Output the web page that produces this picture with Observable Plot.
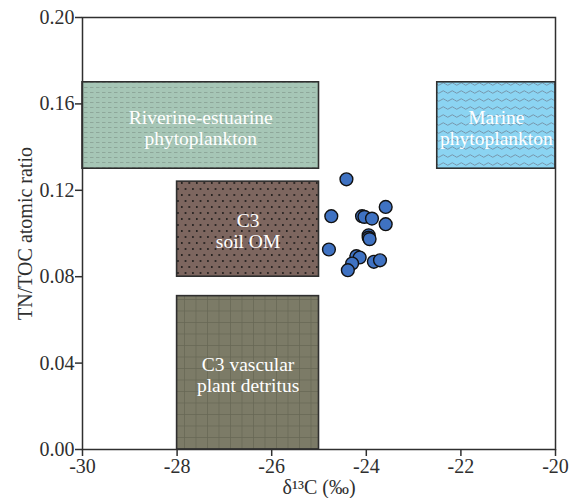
<!DOCTYPE html>
<html>
<head>
<meta charset="utf-8">
<script src="https://cdn.jsdelivr.net/npm/d3@7"></script>
<script src="https://cdn.jsdelivr.net/npm/@observablehq/plot@0.6"></script>
<style>
  body { margin: 0; background: #fff; }
  #chart svg g[aria-label="x-axis tick label"],
  #chart svg g[aria-label="y-axis tick label"],
  #chart svg g[aria-label="x-axis label"],
  #chart svg g[aria-label="y-axis label"] {
    font-size: 20px !important;
    font-family: 'Liberation Serif', 'Times New Roman', serif !important;
  }
</style>
</head>
<body>
<div id="chart"></div>
<script>
// Source end-member boxes
const boxNames = ["Riverine-estuarine\nphytoplankton", "Marine\nphytoplankton", "C3\nsoil OM", "C3 vascular\nplant detritus"];
const boxX1 = [-30, -22.5, -28, -28];
const boxX2 = [-25, -20, -25, -25];
const boxY1 = [0.13, 0.13, 0.08, 0];
const boxY2 = [0.17, 0.17, 0.124, 0.071];
const boxPattern = ["pRiv", "pMar", "pSoil", "pVasc"];

// Sample measurements
const d13C = [-24.42, -24.74, -24.09, -24.04, -23.88, -23.59, -23.59, -23.95, -23.95, -23.93, -24.79, -24.21, -24.14, -24.30, -24.39, -23.84, -23.71];
const tnToc = [0.1251, 0.1080, 0.1080, 0.1077, 0.1069, 0.1123, 0.1043, 0.0992, 0.0981, 0.0974, 0.0926, 0.0895, 0.0889, 0.0861, 0.0830, 0.0869, 0.0876];

const xTicks = [-30, -28, -26, -24, -22, -20];
const yTicks = [0, 0.04, 0.08, 0.12, 0.16, 0.20];

const boxes = boxNames.map((name, i) => ({
  name, x1: boxX1[i], x2: boxX2[i], y1: boxY1[i], y2: boxY2[i], pat: boxPattern[i],
  cx: (boxX1[i] + boxX2[i]) / 2, cy: (boxY1[i] + boxY2[i]) / 2
}));
const samples = d13C.map((x, i) => ({x, y: tnToc[i]}));

const ink = "#2f2f2f";
const serif = "'Liberation Serif', 'Times New Roman', serif";

const chart = Plot.plot({
  width: 573,
  height: 498,
  marginLeft: 82,
  marginRight: 18,
  marginTop: 17,
  marginBottom: 49,
  style: {fontFamily: serif, fontSize: "20px", color: ink, background: "#fff"},
  x: {domain: [-30, -20]},
  y: {domain: [0, 0.2]},
  marks: [
    Plot.rect(boxes, {x1: "x1", x2: "x2", y1: "y1", y2: "y2", fill: d => `url(#${d.pat})`, stroke: ink, strokeWidth: 1.6}),
    Plot.text(boxes, {x: "cx", y: "cy", text: "name", fill: "#ffffff", fontSize: 19.5, fontFamily: serif, lineHeight: 1.07, lineAnchor: "middle", dy: 2}),
    Plot.dot(samples, {x: "x", y: "y", r: 6.4, fill: "#3f72c2", stroke: "#111", strokeWidth: 1.4}),
    Plot.frame({stroke: ink, strokeWidth: 1.5}),
    Plot.axisX({ticks: xTicks, tickSize: 7, tickPadding: 2, tickFormat: d => String(d), fontSize: 20, fontFamily: serif, label: "δ¹³C (‰)", labelAnchor: "center", labelArrow: "none", labelOffset: 44, stroke: ink, strokeWidth: 1.5}),
    Plot.axisY({ticks: yTicks, tickSize: 7, tickPadding: 1, tickFormat: d3.format(".2f"), fontSize: 20, fontFamily: serif, label: "TN/TOC atomic ratio", labelAnchor: "center", labelArrow: "none", labelOffset: 65, stroke: ink, strokeWidth: 1.5})
  ]
});

// Fill patterns for the end-member boxes
const defs = d3.select(chart).insert("defs", ":first-child");
const riv = defs.append("pattern").attr("id", "pRiv").attr("patternUnits", "userSpaceOnUse").attr("width", 6).attr("height", 5);
riv.append("rect").attr("width", 6).attr("height", 5).attr("fill", "#a6c6b6");
riv.append("line").attr("x1", 0).attr("x2", 3.5).attr("y1", 2.5).attr("y2", 2.5).attr("stroke", "#84998e").attr("stroke-width", 0.7);

const mar = defs.append("pattern").attr("id", "pMar").attr("patternUnits", "userSpaceOnUse").attr("width", 9).attr("height", 8);
mar.append("rect").attr("width", 9).attr("height", 8).attr("fill", "#8bd4f2");
mar.append("path").attr("d", "M0,4 Q2.25,1.5 4.5,4 T9,4").attr("fill", "none").attr("stroke", "#71889a").attr("stroke-width", 0.8);

const soil = defs.append("pattern").attr("id", "pSoil").attr("patternUnits", "userSpaceOnUse").attr("width", 7.5).attr("height", 12);
soil.append("rect").attr("width", 7.5).attr("height", 12).attr("fill", "#7d665f");
soil.append("circle").attr("cx", 1.8).attr("cy", 3).attr("r", 0.9).attr("fill", "#111");
soil.append("circle").attr("cx", 5.5).attr("cy", 9).attr("r", 0.9).attr("fill", "#111");

const vasc = defs.append("pattern").attr("id", "pVasc").attr("patternUnits", "userSpaceOnUse").attr("width", 11.5).attr("height", 11.5);
vasc.append("rect").attr("width", 11.5).attr("height", 11.5).attr("fill", "#7c7b67");
vasc.append("path").attr("d", "M0,0.4H11.5M0.4,0V11.5").attr("stroke", "#686754").attr("stroke-width", 0.8);

document.getElementById("chart").appendChild(chart);
</script>
</body>
</html>
